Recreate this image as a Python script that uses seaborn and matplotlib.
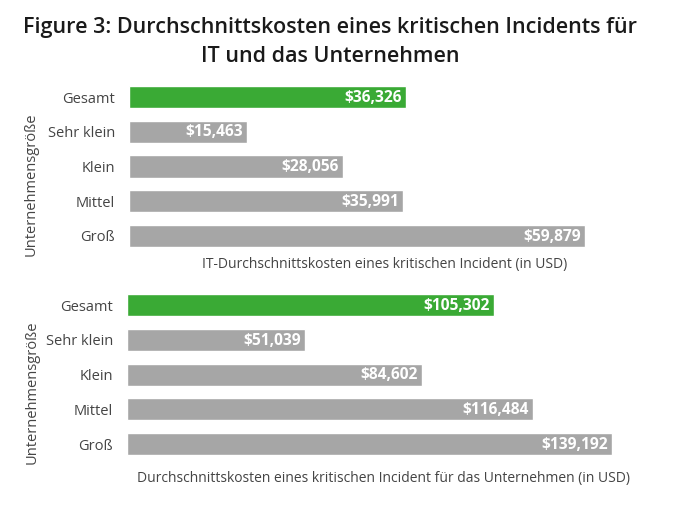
import matplotlib
matplotlib.use('Agg')
import matplotlib.pyplot as plt
import seaborn as sns

# Daten
groessen = ['Gesamt', 'Sehr klein', 'Klein', 'Mittel', 'Groß']
it_kosten = [36326, 15463, 28056, 35991, 59879]
firma_kosten = [105302, 51039, 84602, 116484, 139192]
farben = ['#3aaa35', '#a6a6a6', '#a6a6a6', '#a6a6a6', '#a6a6a6']

sns.set_style('white')
plt.rcParams['font.family'] = ['Open Sans', 'DejaVu Sans']

fig = plt.figure(figsize=(6.98, 5.07), dpi=100, facecolor='white')
ax1 = fig.add_axes([0.1848, 0.5005, 0.732, 0.3422])
ax2 = fig.add_axes([0.1820, 0.0899, 0.735, 0.3422])


def panel(ax, werte, xmax, xlabel, pad, ylx):
    sns.barplot(x=werte, y=groessen, hue=groessen, palette=farben, legend=False,
                width=0.64, saturation=1, ax=ax)
    ax.set_xlim(0, xmax)
    for cont, w in zip(ax.containers, werte):
        rect = cont.patches[0]
        ax.annotate(f'${w:,}', (rect.get_width(), rect.get_y() + rect.get_height() / 2),
                    xytext=(-3, -0.5), textcoords='offset points', ha='right', va='center',
                    color='white', fontweight='bold', fontsize=11.2)
    sns.despine(ax=ax, left=True, bottom=True)
    ax.set_xticks([])
    ax.tick_params(axis='y', length=0, pad=10, labelsize=10.5, labelcolor='#444444')
    ax.set_xlabel(xlabel, fontsize=10, color='#444444', labelpad=pad)
    ax.set_ylabel('Unternehmensgröße', fontsize=10.5, color='#444444')
    ax.yaxis.set_label_coords(ylx, 0.40)


panel(ax1, it_kosten, 67060, 'IT-Durchschnittskosten eines kritischen Incident (in USD)', 3, -0.176)
panel(ax2, firma_kosten, 147200, 'Durchschnittskosten eines kritischen Incident für das Unternehmen (in USD)', 7, -0.171)

fig.text(0.473, 0.917, 'Figure 3: Durchschnittskosten eines kritischen Incidents für\nIT und das Unternehmen',
         ha='center', va='center', fontsize=15.5, color='#1a1a1a', linespacing=1.48,
         fontweight='semibold')

fig.savefig('out.png', dpi=100, facecolor='white')
